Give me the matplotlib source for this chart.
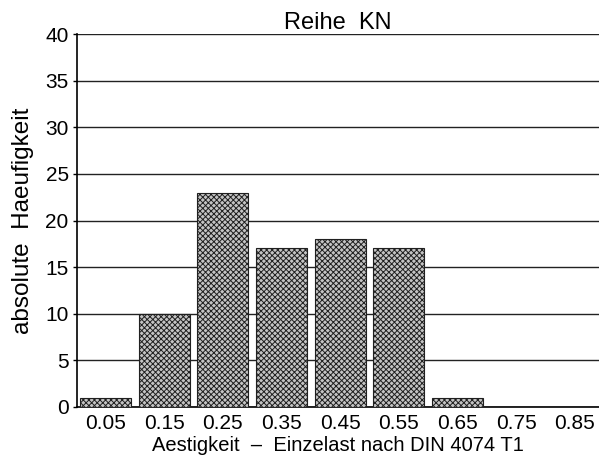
import matplotlib.pyplot as plt
import numpy as np

plt.rcParams['font.family'] = ['Liberation Sans', 'DejaVu Sans']
plt.rcParams['hatch.linewidth'] = 0.7

klassen = ['0.05', '0.15', '0.25', '0.35', '0.45', '0.55', '0.65', '0.75', '0.85']
haeufigkeit = [1, 10, 23, 17, 18, 17, 1, 0, 0]

fig = plt.figure(figsize=(5.99, 4.69), dpi=100)
ax = fig.add_axes([0.1285, 0.1322, 0.8715, 0.7953])

x = np.arange(len(klassen))
ax.bar(x, haeufigkeit, width=0.87, color='#c4c4c4', edgecolor='#202020',
       hatch='xxxxxx', linewidth=0.8, zorder=3)

ax.set_xlim(-0.486, 8.41)
ax.set_ylim(0, 40)
ax.set_yticks(np.arange(0, 41, 5))
ax.set_xticks(x)
ax.set_xticklabels(klassen)
ax.yaxis.grid(True, color='#222222', linewidth=1.0, zorder=0)
ax.tick_params(axis='x', length=0, labelsize=15, pad=5)
ax.tick_params(axis='y', length=3, width=1, labelsize=15, pad=3)

for s in ['top', 'right']:
    ax.spines[s].set_visible(False)
ax.spines['left'].set_linewidth(1.2)
ax.spines['bottom'].set_linewidth(1.2)

ax.set_title('Reihe  KN', fontsize=17, pad=3)
ax.set_ylabel('absolute  Haeufigkeit', fontsize=17.5, labelpad=8)
ax.set_xlabel('Aestigkeit  –  Einzelast nach DIN 4074 T1', fontsize=14.5, labelpad=2)

fig.savefig('out.png', dpi=100)
